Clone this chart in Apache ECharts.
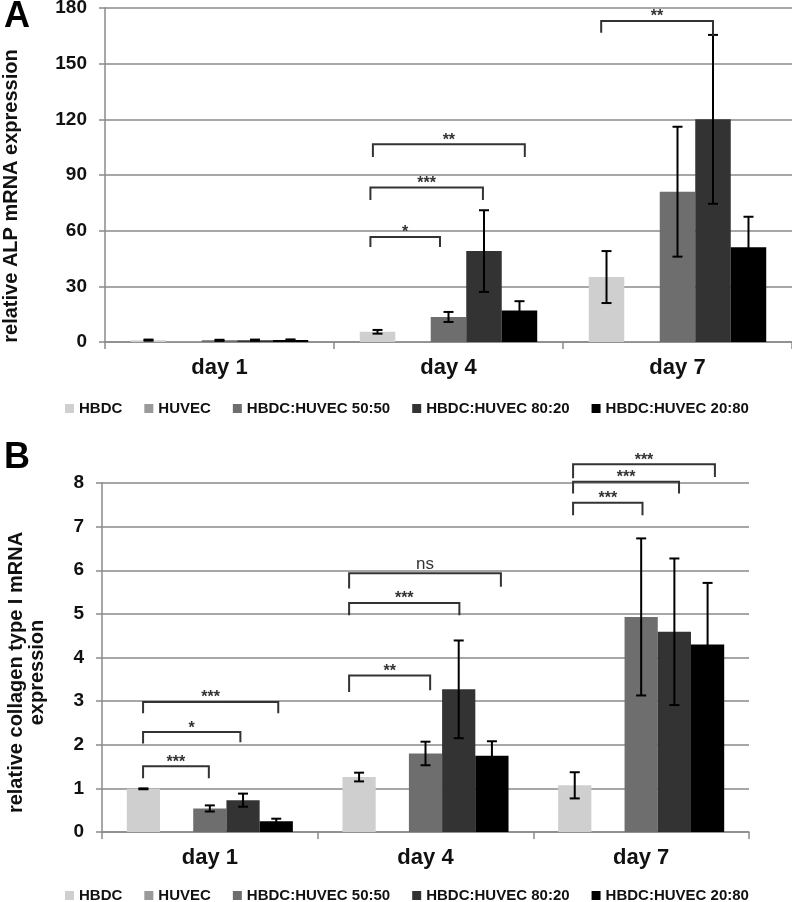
<!DOCTYPE html>
<html>
<head>
<meta charset="utf-8">
<script src="https://cdn.jsdelivr.net/npm/echarts@6/dist/echarts.min.js"></script>
<style>
html,body{margin:0;padding:0;background:#fff;}
#chart{width:792px;height:902px;}
</style>
</head>
<body>
<div id="chart"></div>
<script>
// ---------- data ----------
const categories = ['day 1', 'day 4', 'day 7'];
const groups = ['HBDC', 'HUVEC', 'HBDC:HUVEC 50:50', 'HBDC:HUVEC 80:20', 'HBDC:HUVEC 20:80'];
const colors = ['#cfcfcf', '#9a9a9a', '#6e6e6e', '#333333', '#000000'];

// Panel A: relative ALP mRNA expression
const alpTicks = [0, 30, 60, 90, 120, 150, 180];
const alpHBDC = [1, 5.5, 35];
const alpHUVEC = [0.6, 0.4, 0.5];
const alp5050 = [0.9, 13.5, 81];
const alp8020 = [1, 49, 120];
const alp2080 = [1.1, 17, 51];
const alpErrHBDC = [0.3, 1, 14];
const alpErrHUVEC = [0, 0, 0];
const alpErr5050 = [0.3, 2.7, 35];
const alpErr8020 = [0.3, 22, 45.5];
const alpErr2080 = [0.3, 5, 16.5];
// brackets: [category, from bar, to bar, top value, left foot, right foot]
const alpBrackets = [
  [1, -0.2, 1.76, 56.6, 51.2, 51.2],
  [1, -0.2, 2.97, 83.2, 76.5, 76.5],
  [1, -0.13, 4.15, 106.6, 99.7, 99.7],
  [2, -0.15, 3.0, 173, 166.6, 165]
];
const alpBracketLabels = ['*', '***', '**', '**'];

// Panel B: relative collagen type I mRNA expression
const colTicks = [0, 1, 2, 3, 4, 5, 6, 7, 8];
const colHBDC = [0.99, 1.26, 1.07];
const colHUVEC = [0, 0, 0];
const col5050 = [0.54, 1.80, 4.93];
const col8020 = [0.73, 3.27, 4.59];
const col2080 = [0.245, 1.75, 4.30];
const colErrHBDC = [0.01, 0.1, 0.3];
const colErrHUVEC = [0, 0, 0];
const colErr5050 = [0.07, 0.27, 1.8];
const colErr8020 = [0.15, 1.12, 1.68];
const colErr2080 = [0.06, 0.33, 1.41];
const colBrackets = [
  [0, -0.01, 1.97, 1.51, 1.23, 1.23],
  [0, -0.01, 2.92, 2.29, 2.03, 2.06],
  [0, -0.01, 4.06, 2.98, 2.72, 2.72],
  [1, -0.3, 2.14, 3.59, 3.21, 3.25],
  [1, -0.3, 3.02, 5.25, 4.97, 4.97],
  [1, -0.3, 4.27, 5.93, 5.58, 5.62],
  [2, -0.05, 2.04, 7.55, 7.26, 7.26],
  [2, -0.05, 3.14, 8.03, 7.76, 7.76],
  [2, -0.05, 4.22, 8.43, 8.11, 8.14]
];
const colBracketLabels = ['***', '*', '***', '**', '***', 'ns', '***', '***', '***'];

// ---------- chart ----------
const FONT = '"Liberation Sans", Arial, sans-serif';
const GAPS = [0.225, 0.23];

const alpVals = [alpHBDC, alpHUVEC, alp5050, alp8020, alp2080];
const alpErrs = [alpErrHBDC, alpErrHUVEC, alpErr5050, alpErr8020, alpErr2080];
const colVals = [colHBDC, colHUVEC, col5050, col8020, col2080];
const colErrs = [colErrHBDC, colErrHUVEC, colErr5050, colErr8020, colErr2080];

function errRender(barIdx, gap) {
  return function (params, api) {
    const cat = api.value(0), v = api.value(1), e = api.value(2);
    if (!e) return null;
    const band = api.size([1, 0])[0];
    const bw = band * (1 - gap) / 5;
    const cx = api.coord([cat, v])[0] + (barIdx - 2) * bw;
    const yT = api.coord([cat, v + e])[1];
    const yB = api.coord([cat, Math.max(v - e, 0)])[1];
    const cap = 5;
    const st = { stroke: '#000', lineWidth: 2 };
    return {
      type: 'group',
      children: [
        { type: 'line', shape: { x1: cx, y1: yT, x2: cx, y2: yB }, style: st },
        { type: 'line', shape: { x1: cx - cap, y1: yT, x2: cx + cap, y2: yT }, style: st },
        { type: 'line', shape: { x1: cx - cap, y1: yB, x2: cx + cap, y2: yB }, style: st }
      ]
    };
  };
}

function bracketRender(labels, gap) {
  return function (params, api) {
    const cat = api.value(0), from = api.value(1), to = api.value(2);
    const top = api.value(3), lf = api.value(4), rf = api.value(5);
    const band = api.size([1, 0])[0];
    const bw = band * (1 - gap) / 5;
    const p = api.coord([cat, top]);
    const xL = p[0] + (from - 2) * bw;
    const xR = p[0] + (to - 2) * bw;
    const yT = p[1];
    const yL = api.coord([cat, lf])[1];
    const yR = api.coord([cat, rf])[1];
    const lab = labels[params.dataIndex];
    const isNs = lab === 'ns';
    return {
      type: 'group',
      children: [
        { type: 'polyline', shape: { points: [[xL, yL], [xL, yT], [xR, yT], [xR, yR]] },
          style: { stroke: '#333', lineWidth: 2, fill: null } },
        { type: 'text', x: (xL + xR) / 2, y: yT - (isNs ? 9 : 4),
          style: { text: lab, fill: '#333', font: (isNs ? 'normal 17px ' : 'bold 16px ') + FONT,
                   textAlign: 'center', textVerticalAlign: 'middle' } }
      ]
    };
  };
}

const series = [];
[[alpVals, alpErrs, 0], [colVals, colErrs, 1]].forEach(([vals, errs, gi]) => {
  groups.forEach((g, i) => {
    series.push({
      name: g, type: 'bar', xAxisIndex: gi, yAxisIndex: gi,
      data: vals[i], barGap: '0%', barCategoryGap: (GAPS[gi] * 100) + '%',
      itemStyle: { color: colors[i] }, z: 2
    });
  });
  groups.forEach((g, i) => {
    series.push({
      name: 'err' + gi + '_' + i, type: 'custom', xAxisIndex: gi, yAxisIndex: gi,
      renderItem: errRender(i, GAPS[gi]), clip: false, z: 5,
      encode: { x: 0, y: 1 },
      data: categories.map((c, k) => [k, vals[i][k], errs[i][k]])
    });
  });
});
series.push({
  name: 'brA', type: 'custom', xAxisIndex: 0, yAxisIndex: 0, clip: false, z: 6,
  renderItem: bracketRender(alpBracketLabels, GAPS[0]), encode: { x: 0, y: 3 }, data: alpBrackets
});
series.push({
  name: 'brB', type: 'custom', xAxisIndex: 1, yAxisIndex: 1, clip: false, z: 6,
  renderItem: bracketRender(colBracketLabels, GAPS[1]), encode: { x: 0, y: 3 }, data: colBrackets
});

function xAx(gi) {
  return {
    type: 'category', gridIndex: gi, data: categories,
    axisLine: { lineStyle: { color: '#8a8a8a', width: 1.5 } },
    axisTick: { show: true, length: 7, lineStyle: { color: '#8a8a8a', width: 1.5 } },
    axisLabel: { fontSize: 22, fontWeight: 'bold', color: '#111', margin: 15, fontFamily: FONT },
    splitLine: { show: false }
  };
}
function yAx(gi, ticks, name, gap, shift) {
  return {
    type: 'value', gridIndex: gi, min: ticks[0], max: ticks[ticks.length - 1],
    interval: ticks[1] - ticks[0],
    name: name, nameLocation: 'middle', nameRotate: 90, nameGap: gap,
    nameTextStyle: { fontSize: 20, fontWeight: 'bold', color: '#111', fontFamily: FONT, lineHeight: 21,
                     padding: [0, shift, 0, 0] },
    axisLine: { show: true, lineStyle: { color: '#8a8a8a', width: 1.5 } },
    axisTick: { show: true, length: 6, lineStyle: { color: '#8a8a8a', width: 1.5 } },
    axisLabel: { fontSize: 19, fontWeight: 'bold', color: '#111', margin: 18, fontFamily: FONT },
    splitLine: { show: true, lineStyle: { color: '#8a8a8a', width: 1.5 } }
  };
}
function legend(top) {
  return {
    top: top, left: 65, padding: 0, data: groups, icon: 'rect', itemWidth: 9, itemHeight: 9,
    itemGap: 22, selectedMode: false,
    textStyle: { fontSize: 15, fontWeight: 'bold', color: '#111', fontFamily: FONT }
  };
}

const option = {
  animation: false,
  backgroundColor: '#fff',
  title: [
    { text: 'A', left: -1, top: -6, textStyle: { fontSize: 36, fontWeight: 'bold', color: '#000', fontFamily: FONT } },
    { text: 'B', left: -1, top: 435, textStyle: { fontSize: 36, fontWeight: 'bold', color: '#000', fontFamily: FONT } }
  ],
  legend: [legend(401), legend(888)],
  grid: [
    { left: 105, top: 8, width: 687, height: 334, outerBoundsMode: 'none', containLabel: false },
    { left: 102, top: 483, width: 647, height: 349, outerBoundsMode: 'none', containLabel: false }
  ],
  xAxis: [xAx(0), xAx(1)],
  yAxis: [
    yAx(0, alpTicks, 'relative ALP mRNA expression', 83, 42),
    yAx(1, colTicks, 'relative collagen type I mRNA\nexpression', 54, 30)
  ],
  series: series
};

const chart = echarts.init(document.getElementById('chart'), null, { renderer: 'canvas' });
chart.setOption(option);
</script>
</body>
</html>
